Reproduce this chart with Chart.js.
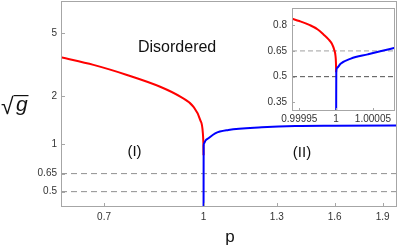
<!DOCTYPE html>
<html><head><meta charset="utf-8">
<script src="https://cdn.jsdelivr.net/npm/chart.js@4/dist/chart.umd.min.js"></script>
<style>
html,body{margin:0;padding:0;background:#fff;}
#wrap{position:relative;width:399px;height:248px;overflow:hidden;}
#main{position:absolute;left:0;top:0;}
#inset{position:absolute;left:252px;top:2px;background:#fff;}
</style></head><body>
<div id="wrap">
<canvas id="main" width="399" height="248"></canvas>
<canvas id="inset" width="144" height="122"></canvas>
</div>
<script>
// ---- data ----
const mainXTicks = [0.7, 1, 1.3, 1.6, 1.9];
const mainXLabels = ['0.7', '1', '1.3', '1.6', '1.9'];
const mainYTicks = [0.5, 0.65, 1, 2, 5];
const mainYLabels = ['0.5', '0.65', '1', '2', '5'];
const redP = [0.6, 0.674, 0.76, 0.856, 0.92, 0.964, 0.988, 0.9975, 0.9996, 1.0];
const redG = [3.53, 3.16, 2.73, 2.30, 1.99, 1.72, 1.42, 1.17, 0.96, 0.85];
const blueP = [1.0, 1.0003, 1.002, 1.006, 1.0177, 1.0425, 1.093, 1.232, 1.389, 1.6, 2.0];
const blueG = [0.35, 0.97, 1.01, 1.045, 1.087, 1.168, 1.226, 1.275, 1.30, 1.305, 1.31];
const dashLevels = [0.5, 0.65];

const insetXTicks = [0.99995, 1, 1.00005];
const insetXLabels = ['0.99995', '1', '1.00005'];
const insetYTicks = [0.35, 0.5, 0.65, 0.8];
const insetYLabels = ['0.35', '0.5', '0.65', '0.8'];
const insetRedP = [0.99994, 0.99995, 0.9999643, 0.999975, 0.9999828, 0.99999, 0.9999944, 0.9999975, 0.999999, 0.99999975, 1.0];
const insetRedG = [0.838, 0.824, 0.800, 0.775, 0.746, 0.716, 0.690, 0.655, 0.625, 0.58, 0.526];
const insetBlueP = [1.0, 1.0000002, 1.000001, 1.000006, 1.00002, 1.000043, 1.00006, 1.00008];
const insetBlueG = [0.25, 0.526, 0.55, 0.575, 0.605, 0.630, 0.648, 0.668];

// ---- helpers ----
const FONT = '"Liberation Sans", Arial, sans-serif';
Chart.defaults.font.family = FONT;
const FRAME = '#a6a6a6';
const pts = (xs, ys) => xs.map((x, i) => ({x: x, y: ys[i]}));
const curve = (xs, ys, color) => ({
  data: pts(xs, ys), showLine: true, borderColor: color, borderWidth: 2,
  pointRadius: 0, cubicInterpolationMode: 'monotone', fill: false
});
const hline = (lvl, x0, x1, color, dash) => ({
  data: [{x: x0, y: lvl}, {x: x1, y: lvl}], showLine: true, borderColor: color,
  borderWidth: 1, borderDash: dash, pointRadius: 0, fill: false
});
const noPad = s => { s.paddingTop = 0; s.paddingBottom = 0; s.paddingLeft = 0; s.paddingRight = 0; };
const noGrid = {display: false, drawTicks: false, tickLength: 0};
const framePlugin = (tickLen) => ({
  id: 'frame',
  afterDraw(chart) {
    const ctx = chart.ctx, a = chart.chartArea;
    const xs = chart.scales.x, ys = chart.scales.y;
    ctx.save();
    ctx.strokeStyle = FRAME; ctx.lineWidth = 1;
    ctx.strokeRect(Math.round(a.left) + 0.5, Math.round(a.top) + 0.5,
      Math.round(a.right - a.left) - 1, Math.round(a.bottom - a.top) - 1);
    ctx.beginPath();
    xs.ticks.forEach(t => {
      const px = Math.round(xs.getPixelForValue(t.value)) + 0.5;
      ctx.moveTo(px, a.bottom); ctx.lineTo(px, a.bottom - tickLen);
    });
    ys.ticks.forEach(t => {
      const py = Math.round(ys.getPixelForValue(t.value)) + 0.5;
      ctx.moveTo(a.left, py); ctx.lineTo(a.left + tickLen, py);
    });
    ctx.stroke();
    ctx.restore();
  }
});

// ---- main chart ----
const mainText = {
  id: 'mainText',
  afterDraw(chart) {
    const ctx = chart.ctx;
    ctx.save();
    ctx.fillStyle = '#111';
    ctx.textBaseline = 'middle';
    ctx.textAlign = 'left';
    ctx.font = '16px ' + FONT;
    ctx.fillText('Disordered', 138, 48);
    ctx.textAlign = 'center';
    ctx.font = '15px ' + FONT;
    ctx.fillText('(I)', 134.5, 152);
    ctx.fillText('(II)', 302, 152.5);
    ctx.font = '17px ' + FONT;
    ctx.fillText('p', 230, 237);
    // sqrt(g) label
    ctx.textBaseline = 'alphabetic';
    ctx.textAlign = 'left';
    ctx.font = '23px ' + FONT;
    const m = ctx.measureText('√');
    const base = 114;
    ctx.fillText('√', 1, base);
    const top = base - m.actualBoundingBoxAscent;
    const rx = 1 + m.actualBoundingBoxRight;
    ctx.font = 'italic 21px ' + FONT;
    ctx.fillText('g', rx + 2, 111);
    ctx.strokeStyle = '#111'; ctx.lineWidth = 1.2;
    ctx.beginPath(); ctx.moveTo(rx - 0.5, top + 0.6); ctx.lineTo(28.5, top + 0.6); ctx.stroke();
    ctx.restore();
  }
};

new Chart(document.getElementById('main'), {
  type: 'scatter',
  data: {
    datasets: [
      curve(blueP, blueG, '#0000ff'),
      curve(redP, redG, '#ff0000'),
      ...dashLevels.map(l => hline(l, 0.6, 2, '#8f8f8f', [6, 4]))
    ]
  },
  options: {
    responsive: false, animation: false, devicePixelRatio: 1,
    layout: {padding: {left: 0, right: 2, top: 1, bottom: 0}},
    plugins: {legend: {display: false}, tooltip: {enabled: false}},
    scales: {
      x: {
        type: 'logarithmic', min: 0.6, max: 2,
        afterBuildTicks: s => { s.ticks = mainXTicks.map(v => ({value: v})); },
        afterFit: s => { s.height = 41; noPad(s); },
        ticks: {autoSkip: false, maxRotation: 0, padding: 4, color: '#333',
          font: {size: 10}, callback: (v, i) => mainXLabels[i]},
        grid: noGrid, border: {display: false}
      },
      y: {
        type: 'logarithmic', min: 0.4, max: 8,
        afterBuildTicks: s => { s.ticks = mainYTicks.map(v => ({value: v})); },
        afterFit: s => { s.width = 61; noPad(s); },
        ticks: {autoSkip: false, padding: 4, color: '#333',
          font: {size: 10}, callback: (v, i) => mainYLabels[i]},
        grid: noGrid, border: {display: false}
      }
    }
  },
  plugins: [framePlugin(4), mainText]
});

// ---- inset chart ----
new Chart(document.getElementById('inset'), {
  type: 'scatter',
  data: {
    datasets: [
      curve(insetBlueP, insetBlueG, '#0000ff'),
      curve(insetRedP, insetRedG, '#ff0000'),
      hline(0.65, 0.99994, 1.00008, '#a0a0a0', [5, 3]),
      hline(0.5, 0.99994, 1.00008, '#505050', [5, 3])
    ]
  },
  options: {
    responsive: false, animation: false, devicePixelRatio: 1,
    layout: {padding: {left: 0, right: 1, top: 6, bottom: 0}},
    plugins: {legend: {display: false}, tooltip: {enabled: false}},
    scales: {
      x: {
        type: 'linear', min: 0.99994, max: 1.00008,
        afterBuildTicks: s => { s.ticks = insetXTicks.map(v => ({value: v})); },
        afterFit: s => { s.height = 13; noPad(s); },
        ticks: {autoSkip: false, maxRotation: 0, padding: 2, color: '#333',
          font: {size: 10}, callback: (v, i) => insetXLabels[i]},
        grid: noGrid, border: {display: false}
      },
      y: {
        type: 'linear', min: 0.3, max: 0.9,
        afterBuildTicks: s => { s.ticks = insetYTicks.map(v => ({value: v})); },
        afterFit: s => { s.width = 40; noPad(s); },
        ticks: {autoSkip: false, padding: 5, color: '#333',
          font: {size: 10}, callback: (v, i) => insetYLabels[i]},
        grid: noGrid, border: {display: false}
      }
    }
  },
  plugins: [framePlugin(3)]
});
</script>
</body></html>
